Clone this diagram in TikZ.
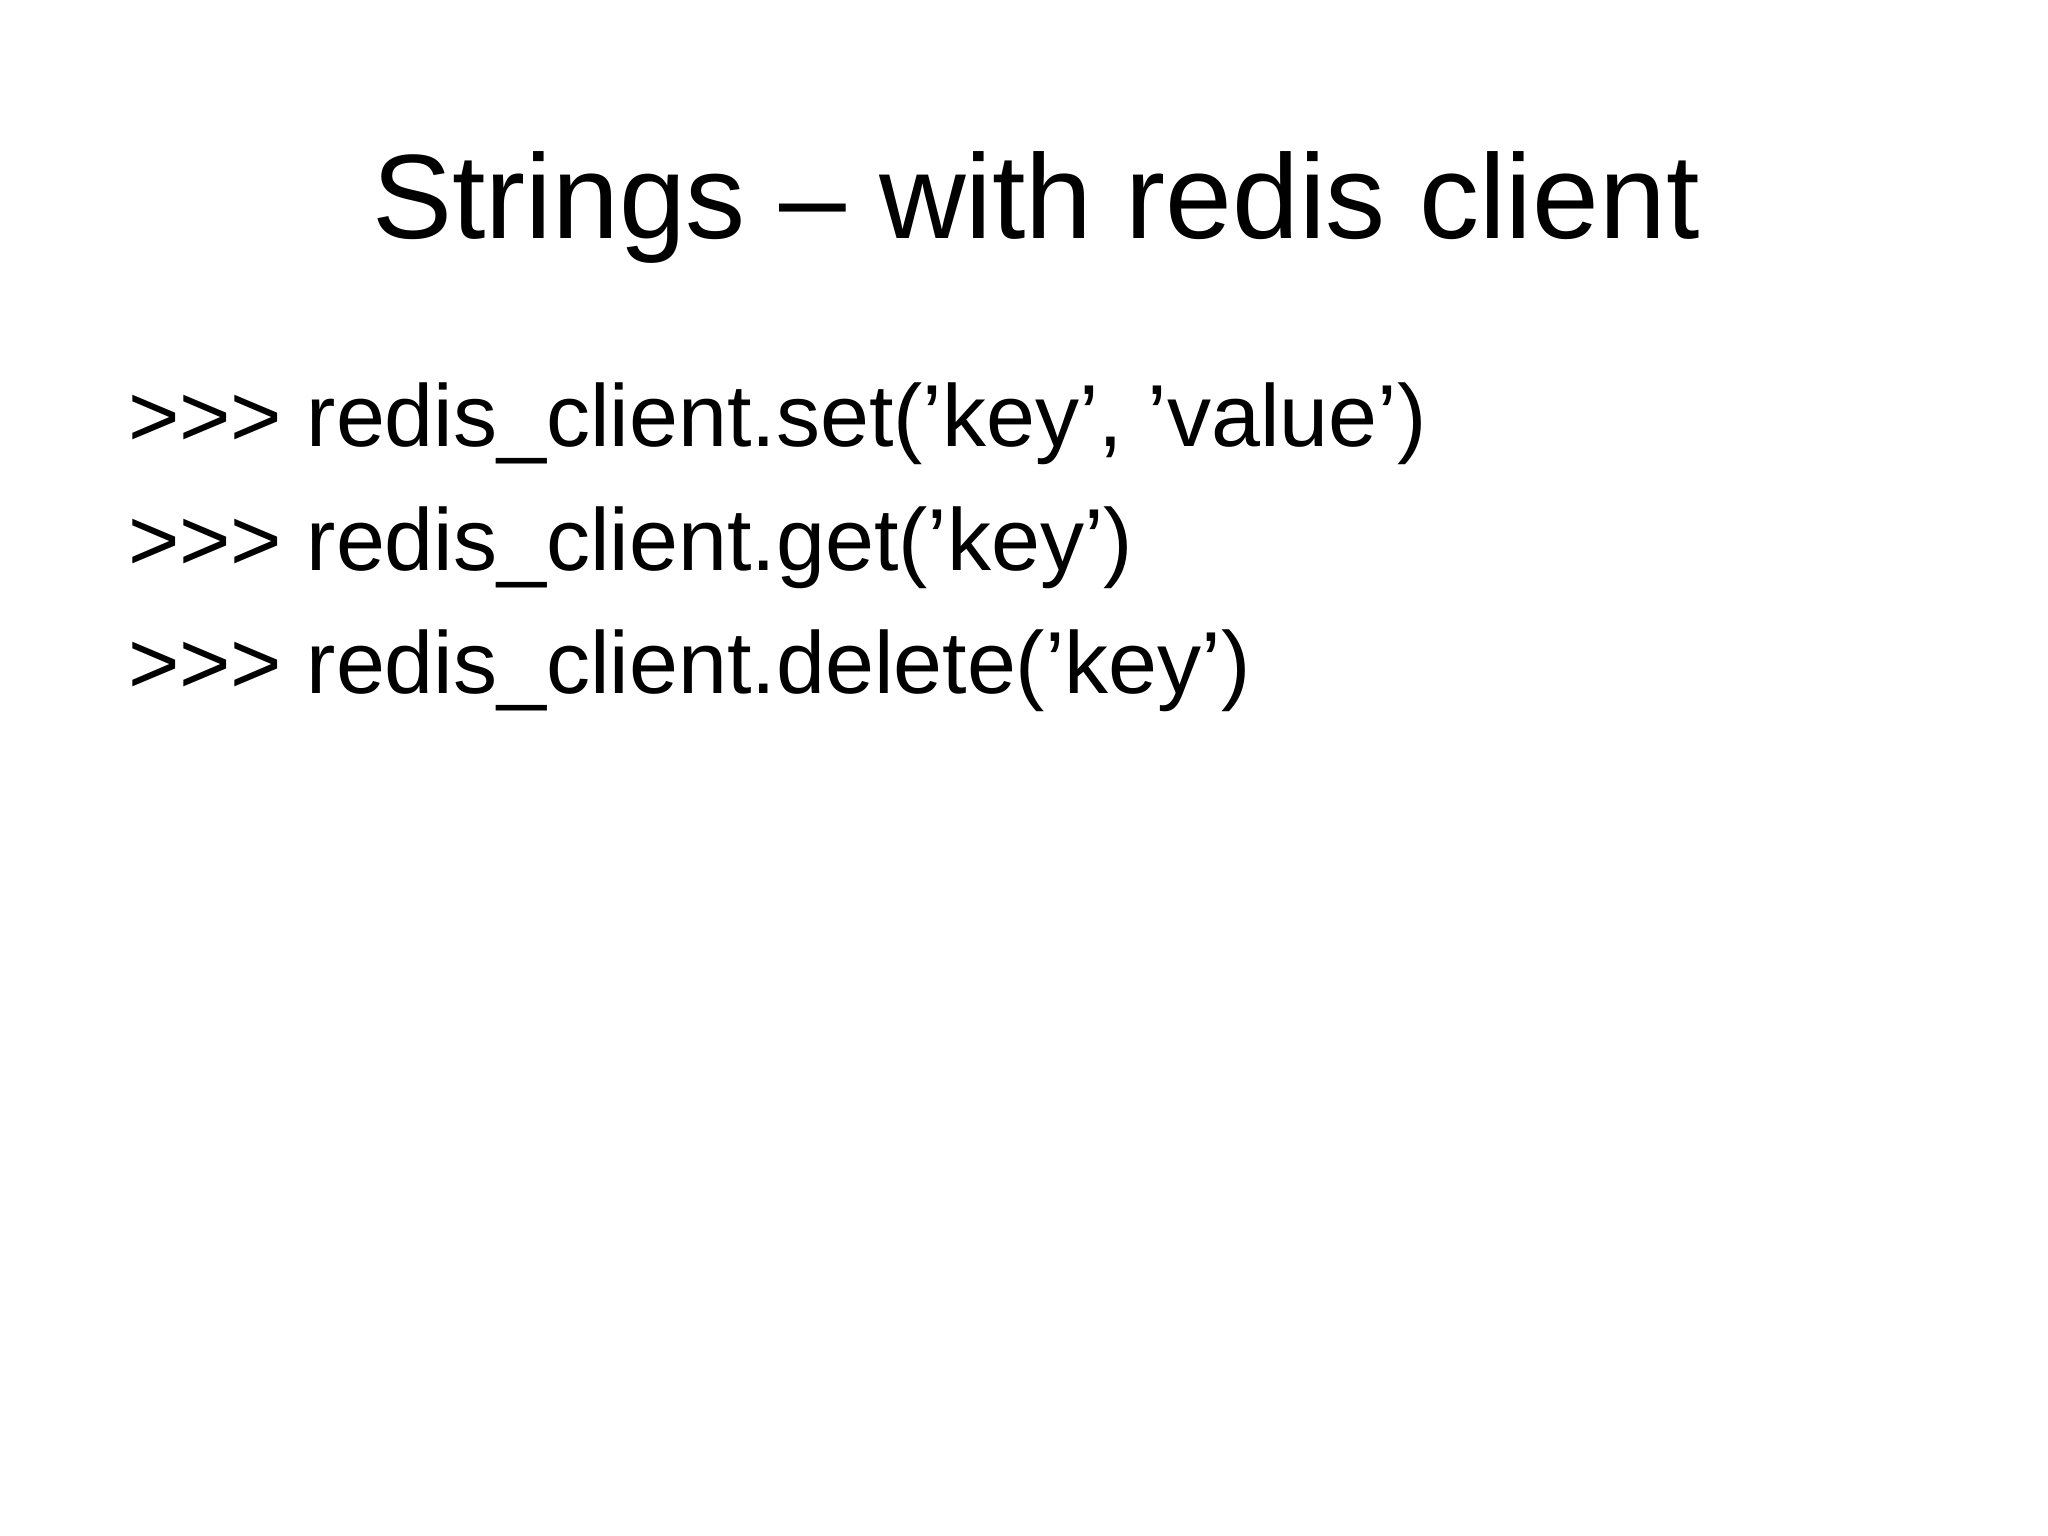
\documentclass[tikz,border=0pt]{standalone}
\usepackage{fontspec}
\setmainfont{Liberation Sans}
\begin{document}
\begin{tikzpicture}[x=1pt,y=-1pt,
  title/.style={anchor=base,inner sep=0pt,font=\fontsize{120}{130}\selectfont},
  line/.style={anchor=base west,inner sep=0pt,font=\fontsize{88}{96}\selectfont}]
\useasboundingbox (0,0) rectangle (2048,1535);
\fill[white] (0,0) rectangle (2048,1535);
\node[title] (t) at (1036,238) {Strings – with redis client};
\node[line] (l1) at (128,446) {>{}>{}> redis\_client.set('key', 'value')};
\node[line] (l2) at (128,570) {>{}>{}> redis\_client.get('key')};
\node[line] (l3) at (128,693) {>{}>{}> redis\_client.delete('key')};
\end{tikzpicture}
\end{document}
